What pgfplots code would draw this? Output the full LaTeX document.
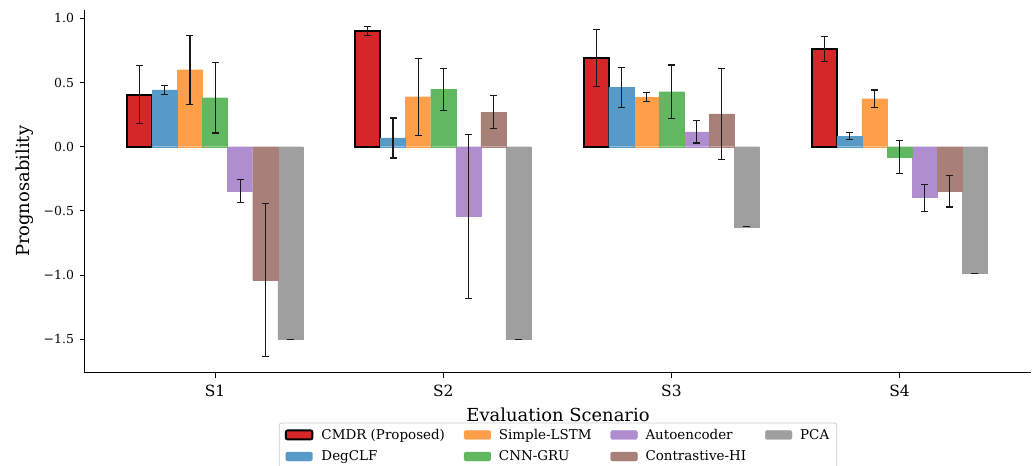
\documentclass[border=0pt]{standalone}
\usepackage{pgfplots}
\pgfplotsset{compat=1.18}
\usepackage{fontspec}
\setmainfont{DejaVu Serif}
\definecolor{cRed}{RGB}{214,39,40}
\definecolor{cBlue}{RGB}{87,153,199}
\definecolor{cOrange}{RGB}{255,159,74}
\definecolor{cGreen}{RGB}{97,184,97}
\definecolor{cPurple}{RGB}{175,141,206}
\definecolor{cBrown}{RGB}{169,128,120}
\definecolor{cGray}{RGB}{159,159,159}
\begin{document}
\begin{tikzpicture}
\begin{axis}[
  name=ax,
  scale only axis, width=946bp, height=362.7bp,
  xmin=-0.570, xmax=3.576, ymin=-1.7615, ymax=1.0655,
  axis lines=left, axis line style={-, line width=1bp, black},
  tick align=outside, major tick length=5bp,
  tick style={line width=1bp, black},
  xtick={0,1,2,3}, xticklabels={S1,S2,S3,S4},
  ytick={-1.5,-1,-0.5,0,0.5,1},
  yticklabels={−1.5,−1.0,−0.5,0.0,0.5,1.0},
  minor tick num=0,
  xticklabel style={font=\fontsize{15.5}{17}\selectfont, yshift=-4bp},
  yticklabel style={font=\fontsize{12.5}{14}\selectfont, xshift=-2.5bp},
  xlabel={Evaluation Scenario},
  ylabel={Prognosability},
  label style={font=\fontsize{18}{20}\selectfont},
  xlabel style={at={(axis description cs:0.5,-0.1351)}, anchor=base},
  ylabel style={at={(axis description cs:-0.0634,0.5)}, anchor=center, rotate=0},
  ybar, bar width=0.11,
  every axis plot post/.append style={/pgf/bar shift=0pt,
    legend image code/.code={\draw[##1] (0bp,-4.5bp) rectangle (26.7bp,4.5bp);}},
  error bars/y dir=both, error bars/y explicit,
  error bars/error bar style={line width=1.1bp, black!90},
  error bars/error mark=|,
  error bars/error mark options={line width=1.1bp, black!90, mark size=3.5bp},
  legend style={at={(0.5,-0.1378)}, anchor=north, legend columns=4,
    draw=black!20, line width=0.8bp, rounded corners=2bp, fill=white,
    font=\fontsize{13.5}{15}\selectfont,
    inner xsep=5.5bp, inner ysep=4bp, row sep=6bp,
    /tikz/every even column/.append style={column sep=17bp},
    /tikz/every odd column/.append style={column sep=6bp}},
  legend cell align=left,
]
% CMDR (Proposed)
\addplot[fill=cRed, draw=black, line width=2bp] coordinates {
  (-0.33,0.405) +- (0,0.225)
  (0.67,0.905) +- (0,0.035)
  (1.67,0.69) +- (0,0.22)
  (2.67,0.76) +- (0,0.099)
};
\addlegendentry{CMDR (Proposed)}
% Simple-LSTM
\addplot[fill=cOrange, draw=cOrange, line width=0.3bp] coordinates {
  (-0.11,0.60) +- (0,0.268)
  (0.89,0.39) +- (0,0.30)
  (1.89,0.387) +- (0,0.035)
  (2.89,0.374) +- (0,0.068)
};
\addlegendentry{Simple-LSTM}
% Autoencoder
\addplot[fill=cPurple, draw=cPurple, line width=0.3bp] coordinates {
  (0.11,-0.345) +- (0,0.091)
  (1.11,-0.543) +- (0,0.64)
  (2.11,0.115) +- (0,0.086)
  (3.11,-0.397) +- (0,0.105)
};
\addlegendentry{Autoencoder}
% PCA
\addplot[fill=cGray, draw=cGray, line width=0.3bp] coordinates {
  (0.33,-1.501) +- (0,0)
  (1.33,-1.501) +- (0,0)
  (2.33,-0.624) +- (0,0)
  (3.33,-0.987) +- (0,0)
};
\addlegendentry{PCA}
% DegCLF
\addplot[fill=cBlue, draw=cBlue, line width=0.3bp] coordinates {
  (-0.22,0.442) +- (0,0.033)
  (0.78,0.068) +- (0,0.156)
  (1.78,0.463) +- (0,0.156)
  (2.78,0.083) +- (0,0.026)
};
\addlegendentry{DegCLF}
% CNN-GRU
\addplot[fill=cGreen, draw=cGreen, line width=0.3bp] coordinates {
  (0,0.382) +- (0,0.275)
  (1,0.447) +- (0,0.166)
  (2,0.429) +- (0,0.208)
  (3,-0.080) +- (0,0.128)
};
\addlegendentry{CNN-GRU}
% Contrastive-HI
\addplot[fill=cBrown, draw=cBrown, line width=0.3bp] coordinates {
  (0.22,-1.039) +- (0,0.595)
  (1.22,0.27) +- (0,0.129)
  (2.22,0.255) +- (0,0.358)
  (3.22,-0.348) +- (0,0.122)
};
\addlegendentry{Contrastive-HI}
\end{axis}
\pgfresetboundingbox
\useasboundingbox ([xshift=-85bp,yshift=-93.3bp]ax.south west) rectangle ([xshift=4bp,yshift=10bp]ax.north east);
\end{tikzpicture}
\end{document}
